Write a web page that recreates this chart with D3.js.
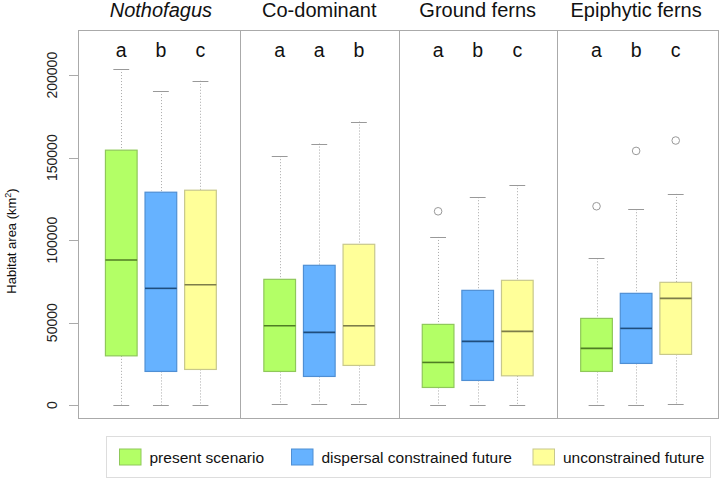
<!DOCTYPE html>
<html>
<head>
<meta charset="utf-8">
<script src="https://cdn.jsdelivr.net/npm/d3@7"></script>
<style>
  body { margin: 0; background: #fff; }
  text { font-family: "Liberation Sans", Arial, sans-serif; }
</style>
</head>
<body>
<div id="chart"></div>
<script>
var groups = ["Nothofagus", "Co-dominant", "Ground ferns", "Epiphytic ferns"];
var scenarios = ["present scenario", "dispersal constrained future", "unconstrained future"];
var letters = [["a","b","c"], ["a","a","b"], ["a","b","c"], ["a","b","c"]];

// box stats per group, per scenario
var lowWhisker = [[400, 0, 400], [1000, 1000, 1000], [400, 400, 400], [400, 400, 1000]];
var q1 = [[29900, 20450, 21660], [20450, 17410, 24090], [10740, 14990, 17800], [20450, 25300, 30770]];
var medians = [[88000, 70800, 73000], [48120, 44110, 48120], [25910, 38650, 44720], [34400, 46540, 64750]];
var q3 = [[154550, 129070, 130280], [76270, 84770, 97500], [48970, 69600, 75670], [52600, 67780, 74450]];
var highWhisker = [[203700, 190350, 196600], [150900, 158560, 171900], [101950, 126040, 133300], [89000, 118750, 128040]];
var outliers = [[[], [], []], [[], [], []], [[117500], [], []], [[120570], [154100], [160400]]];

var yTicks = [0, 50000, 100000, 150000, 200000];

var fills = ["#b3ff66", "#66b2ff", "#ffff99"];
var strokes = ["#8fc85a", "#4f8fd4", "#c8c88c"];
var medColors = ["#4f7d24", "#1f4d7d", "#7d7d4a"];

var width = 722, height = 481;
var mLeft = 78.5, mRight = 718.5, mTop = 30.5, mBottom = 418.5;

var svg = d3.select("#chart").append("svg")
  .attr("width", width)
  .attr("height", height);

var x = d3.scaleLinear().domain([-0.08, 16.08]).range([mLeft, mRight]);
var y = d3.scaleLinear().domain([-8070, 227070]).range([mBottom, mTop]);

var boxW = x(0.8) - x(0);
var capW = boxW / 2;

// flatten boxes
var boxes = [];
groups.forEach(function(g, gi){
  scenarios.forEach(function(s, si){
    boxes.push({
      gi: gi, si: si, pos: gi * 4 + si + 1,
      lo: lowWhisker[gi][si], q1: q1[gi][si], med: medians[gi][si],
      q3: q3[gi][si], hi: highWhisker[gi][si], out: outliers[gi][si],
      letter: letters[gi][si]
    });
  });
});

var b = svg.append("g").selectAll("g").data(boxes).enter().append("g");

// whiskers (dotted)
b.append("line")
  .attr("x1", function(d){ return Math.round(x(d.pos)) + 0.5; })
  .attr("x2", function(d){ return Math.round(x(d.pos)) + 0.5; })
  .attr("y1", function(d){ return y(d.hi); })
  .attr("y2", function(d){ return y(d.q3); })
  .attr("stroke", "#aaa").attr("stroke-dasharray", "1,2");
b.append("line")
  .attr("x1", function(d){ return Math.round(x(d.pos)) + 0.5; })
  .attr("x2", function(d){ return Math.round(x(d.pos)) + 0.5; })
  .attr("y1", function(d){ return y(d.q1); })
  .attr("y2", function(d){ return y(d.lo); })
  .attr("stroke", "#aaa").attr("stroke-dasharray", "1,2");

// caps
b.append("line")
  .attr("x1", function(d){ return x(d.pos) - capW / 2; })
  .attr("x2", function(d){ return x(d.pos) + capW / 2; })
  .attr("y1", function(d){ return Math.round(y(d.hi)) + 0.5; })
  .attr("y2", function(d){ return Math.round(y(d.hi)) + 0.5; })
  .attr("stroke", "#999");
b.append("line")
  .attr("x1", function(d){ return x(d.pos) - capW / 2; })
  .attr("x2", function(d){ return x(d.pos) + capW / 2; })
  .attr("y1", function(d){ return Math.round(y(d.lo)) + 0.5; })
  .attr("y2", function(d){ return Math.round(y(d.lo)) + 0.5; })
  .attr("stroke", "#999");

// box
b.append("rect")
  .attr("x", function(d){ return x(d.pos) - boxW / 2; })
  .attr("y", function(d){ return y(d.q3); })
  .attr("width", boxW)
  .attr("height", function(d){ return y(d.q1) - y(d.q3); })
  .attr("fill", function(d){ return fills[d.si]; })
  .attr("stroke", function(d){ return strokes[d.si]; })
  .attr("stroke-width", 1.2);

// median
b.append("line")
  .attr("x1", function(d){ return x(d.pos) - boxW / 2; })
  .attr("x2", function(d){ return x(d.pos) + boxW / 2; })
  .attr("y1", function(d){ return y(d.med); })
  .attr("y2", function(d){ return y(d.med); })
  .attr("stroke", function(d){ return medColors[d.si]; })
  .attr("stroke-width", 1.6);

// outliers
b.selectAll("circle").data(function(d){ return d.out.map(function(v){ return {pos: d.pos, v: v}; }); })
  .enter().append("circle")
  .attr("cx", function(d){ return x(d.pos); })
  .attr("cy", function(d){ return y(d.v); })
  .attr("r", 3.8)
  .attr("fill", "none")
  .attr("stroke", "#999");

// significance letters
b.append("text")
  .attr("x", function(d){ return x(d.pos); })
  .attr("y", 57)
  .attr("text-anchor", "middle")
  .attr("font-size", 19.5)
  .attr("fill", "#111")
  .text(function(d){ return d.letter; });

// frame and dividers
svg.append("rect")
  .attr("x", mLeft).attr("y", mTop)
  .attr("width", mRight - mLeft).attr("height", mBottom - mTop)
  .attr("fill", "none").attr("stroke", "#aaa");

[4, 8, 12].forEach(function(p){
  svg.append("line")
    .attr("x1", Math.round(x(p)) + 0.5).attr("x2", Math.round(x(p)) + 0.5)
    .attr("y1", mTop).attr("y2", mBottom)
    .attr("stroke", "#aaa");
});

// group titles
svg.selectAll(".gtitle").data(groups).enter().append("text")
  .attr("class", "gtitle")
  .attr("x", function(d, i){ return x(i * 4 + 2); })
  .attr("y", 17)
  .attr("text-anchor", "middle")
  .attr("font-size", 20)
  .attr("font-style", function(d, i){ return i === 0 ? "italic" : "normal"; })
  .attr("fill", "#111")
  .text(function(d){ return d; });

// y axis
var yAxis = svg.append("g");
yAxis.selectAll("line").data(yTicks).enter().append("line")
  .attr("x1", mLeft - 9.5).attr("x2", mLeft)
  .attr("y1", function(d){ return Math.round(y(d)) + 0.5; })
  .attr("y2", function(d){ return Math.round(y(d)) + 0.5; })
  .attr("stroke", "#aaa");
yAxis.selectAll("text").data(yTicks).enter().append("text")
  .attr("transform", function(d){ return "translate(57," + y(d) + ") rotate(-90)"; })
  .attr("text-anchor", "middle")
  .attr("font-size", 14)
  .attr("fill", "#222")
  .text(function(d){ return d; });

var yt = svg.append("text")
  .attr("transform", "translate(16,241) rotate(-90)")
  .attr("text-anchor", "middle")
  .attr("font-size", 13)
  .attr("fill", "#111");
yt.append("tspan").text("Habitat area (km");
yt.append("tspan").attr("font-size", 9).attr("dy", -5).text("2");
yt.append("tspan").attr("dy", 5).text(")");

// legend
var legend = svg.append("g");
legend.append("rect")
  .attr("x", 106.5).attr("y", 436.5)
  .attr("width", 604).attr("height", 41)
  .attr("fill", "#fff").attr("stroke", "#ddd");

var legendX = [119.5, 291.5, 533];
var li = legend.selectAll(".item").data(scenarios).enter().append("g")
  .attr("transform", function(d, i){ return "translate(" + legendX[i] + ",449)"; });
li.append("rect")
  .attr("width", 21.5).attr("height", 16)
  .attr("fill", function(d, i){ return fills[i]; })
  .attr("stroke", function(d, i){ return strokes[i]; });
li.append("text")
  .attr("x", 30).attr("y", 13.5)
  .attr("font-size", 15.5)
  .attr("fill", "#111")
  .text(function(d){ return d; });
</script>
</body>
</html>
